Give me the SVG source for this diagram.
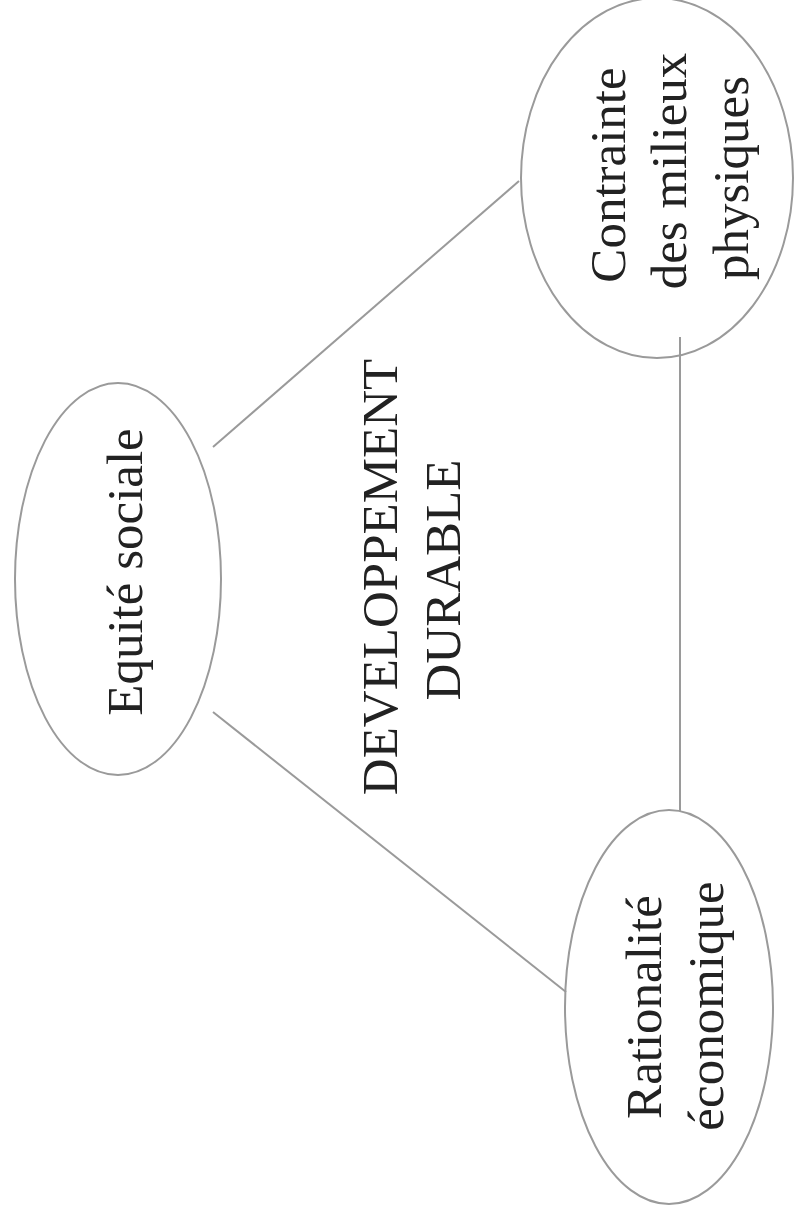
<svg xmlns="http://www.w3.org/2000/svg" width="795" height="1218" viewBox="0 0 795 1218">
<style>
.node ellipse{fill:none;stroke:#9a9a9a;stroke-width:2}
.conn line{stroke:#9a9a9a;stroke-width:2}
text{font-family:"Liberation Serif","Times New Roman",serif;font-size:51px;fill:#222;text-anchor:middle}
</style>
<rect width="795" height="1218" fill="#fff"/>
<g id="connectors" class="conn">
<line x1="213" y1="447" x2="519" y2="181"/>
<line x1="213" y1="712" x2="566" y2="992"/>
<line x1="680" y1="337" x2="680" y2="811"/>
</g>
<g id="equite" class="node">
<ellipse cx="118" cy="579" rx="103" ry="196"/>
<text transform="translate(142,572) rotate(-90)">Equité sociale</text>
</g>
<g id="contrainte" class="node">
<ellipse cx="657" cy="178" rx="136" ry="180"/>
<text transform="translate(625,175) rotate(-90)">Contrainte</text>
<text transform="translate(686,171) rotate(-90)">des milieux</text>
<text transform="translate(748,178) rotate(-90)">physiques</text>
</g>
<g id="rationalite" class="node">
<ellipse cx="669" cy="1007" rx="104" ry="197"/>
<text transform="translate(661,1007) rotate(-90)">Rationalité</text>
<text transform="translate(723,1006) rotate(-90)">économique</text>
</g>
<g id="center">
<text transform="translate(397,577) rotate(-90)">DEVELOPPEMENT</text>
<text transform="translate(460,580) rotate(-90)">DURABLE</text>
</g>
</svg>
